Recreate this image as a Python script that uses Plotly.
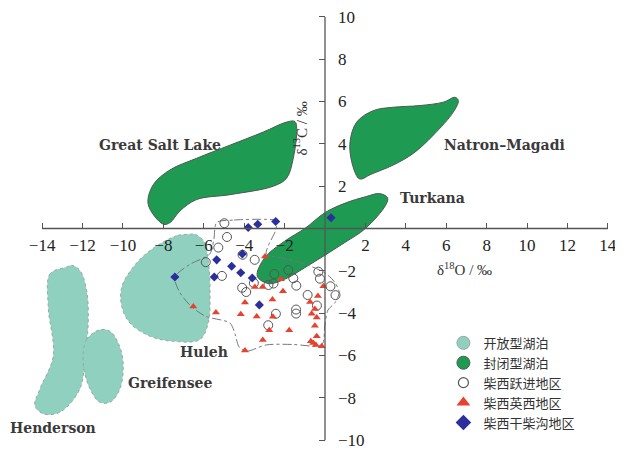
import plotly.graph_objects as go

# ---------------- data ----------------
# Lake regions (delta18O, delta13C outline vertices)
great_salt_x = [-8.0, -8.75, -8.5, -7.67, -6.35, -4.7, -3.05, -1.9, -1.49, -1.4, -1.57, -1.9, -2.56, -4.7, -6.35, -7.18, -7.67]
great_salt_y = [0.2, 1.14, 2.07, 2.77, 3.32, 3.94, 4.56, 5.03, 5.06, 4.72, 3.32, 2.38, 2.0, 1.6, 1.37, 0.83, 0.28]

natron_x = [1.65, 1.32, 1.24, 1.57, 2.39, 3.38, 4.7, 5.86, 6.44, 6.6, 6.35, 5.36, 4.37, 3.38, 2.23, 1.82]
natron_y = [2.38, 3.16, 4.1, 5.03, 5.57, 5.73, 5.81, 5.97, 6.2, 6.04, 5.5, 4.41, 3.55, 3.0, 2.54, 2.34]

turkana_x = [-3.35, -3.0, -2.0, -1.0, 0.0, 1.0, 2.0, 2.7, 3.1, 3.0, 2.0, 1.0, 0.0, -1.0, -2.0, -2.8]
turkana_y = [-2.25, -1.4, -0.6, 0.0, 0.75, 1.2, 1.5, 1.65, 1.45, 1.1, 0.0, -0.65, -1.26, -1.85, -2.4, -2.6]

huleh_x = [-6.68, -7.34, -8.66, -9.49, -10.06, -10.06, -9.65, -8.66, -7.51, -6.19, -5.78, -5.69, -5.78, -6.02, -6.44]
huleh_y = [-0.27, -0.34, -1.04, -1.82, -2.76, -3.69, -4.47, -5.09, -5.33, -5.25, -4.47, -3.07, -1.51, -0.57, -0.27]

henderson_x = [-12.79, -13.61, -13.7, -13.45, -14.11, -14.36, -13.95, -13.12, -12.13, -11.88, -11.72, -11.8, -12.13, -12.54]
henderson_y = [-1.82, -2.14, -3.69, -6.03, -7.58, -8.36, -8.75, -8.68, -7.58, -6.03, -4.47, -2.91, -1.98, -1.74]

greifensee_x = [-11.14, -11.8, -11.97, -11.63, -11.14, -10.64, -10.15, -9.99, -10.23, -10.64]
greifensee_y = [-4.78, -5.25, -6.34, -7.58, -8.21, -8.21, -7.58, -6.34, -5.41, -4.86]

# dashed boundary of the Chaixi samples
bound_x = [-5.36, -4.5, -2.9, -2.4, -2.45, -2.8, -2.9, -1.8, -0.8, 0.0, 0.45, 0.7, 0.5, 0.15, 0.0, -0.1, -0.3, -1.6, -2.9, -3.9, -4.25, -4.45, -4.7, -5.9, -6.6, -7.2, -7.43, -6.7, -5.7, -5.5, -5.36]
bound_y = [0.28, 0.4, 0.43, 0.36, -0.1, -0.8, -1.2, -1.45, -1.75, -2.1, -2.5, -3.0, -3.5, -3.85, -4.5, -5.4, -5.55, -5.48, -5.5, -5.8, -5.6, -5.0, -4.47, -4.15, -3.7, -3.0, -2.3, -1.7, -1.2, -0.5, 0.28]

# sample points
yuejin_x = [-4.98, -4.85, -5.28, -5.9, -5.1, -4.08, -3.48, -4.1, -3.9, -3.52, -2.8, -2.55, -2.51, -1.82, -1.57, -1.42, -0.86, -0.33, -0.25, -0.4, 0.27, 0.52, -1.43, -1.43, -2.43, -2.81]
yuejin_y = [0.25, -0.4, -0.9, -1.59, -2.24, -1.24, -1.48, -2.8, -3.0, -2.58, -2.67, -2.6, -2.15, -1.96, -2.35, -2.7, -3.14, -2.04, -2.37, -3.64, -2.73, -3.15, -3.83, -4.02, -4.03, -4.57]

yingxi_x = [-6.52, -5.4, -4.17, -3.96, -3.47, -3.09, -3.38, -3.96, -2.97, -2.18, -2.08, -0.08, -2.6, -0.35, -0.74, -2.58, -0.66, -0.5, -0.41, -0.5, -2.76, -1.77, -0.41, -3.08, -0.58, -0.7, -0.45, -0.16]
yingxi_y = [-3.69, -3.97, -4.05, -3.5, -2.76, -2.76, -4.16, -5.76, -1.32, -2.4, -2.96, -2.73, -3.36, -3.19, -3.47, -4.17, -4.03, -3.8, -4.21, -4.59, -4.81, -4.81, -5.09, -5.27, -5.41, -5.33, -5.5, -5.56]

ganchaigou_x = [-3.8, -3.33, -2.44, 0.3, -5.36, -4.62, -5.48, -4.17, -3.6, -4.09, -7.43, -3.25]
ganchaigou_y = [0.05, 0.2, 0.33, 0.51, -1.48, -1.78, -2.29, -2.09, -2.34, -1.2, -2.29, -3.61]

# axis ticks
x_tickvals = [-14, -12, -10, -8, -6, -4, -2, 2, 4, 6, 8, 10, 12, 14]
x_ticktext = ["−14", "−12", "−10", "−8", "−6", "−4", "−2", "2", "4", "6", "8", "10", "12", "14"]
y_tickvals = [-10, -8, -6, -4, -2, 2, 4, 6, 8, 10]
y_ticktext = ["−10", "−8", "−6", "−4", "−2", "2", "4", "6", "8", "10"]

# lake name labels
lake_names = ["Great Salt Lake", "Natron–Magadi", "Turkana", "Huleh", "Greifensee", "Henderson"]
lake_label_x = [-8.19, 8.86, 5.3, -5.99, -7.67, -13.47]
lake_label_y = [3.97, 3.97, 1.45, -5.84, -7.29, -9.44]

legend_names = ["开放型湖泊", "封闭型湖泊", "柴西跃进地区", "柴西英西地区", "柴西干柴沟地区"]

# ---------------- style ----------------
OPEN_FILL = "#8fd0bf"
CLOSED_FILL = "#1f9a52"
SERIF = "Liberation Serif, Times New Roman, serif"
LABEL_SERIF = "DejaVu Serif, serif"
CJK = "Noto Sans CJK SC, sans-serif"

# page body has an 8px margin: the figure spans page px 8..623 / 8..450
W, H = 615, 442
XR = [-15.69, 14.75]
YR = [-10.23, 10.42]

fig = go.Figure()

def closed(xs, ys):
    return list(xs) + [xs[0]], list(ys) + [ys[0]]

for xs, ys in [(henderson_x, henderson_y), (greifensee_x, greifensee_y), (huleh_x, huleh_y)]:
    cx, cy = closed(xs, ys)
    fig.add_trace(go.Scatter(x=cx, y=cy, mode="lines", fill="toself", fillcolor=OPEN_FILL,
                             line=dict(color="#9aa8a4", width=1, dash="dot", shape="spline", smoothing=1.0),
                             showlegend=False, hoverinfo="skip"))

for xs, ys in [(great_salt_x, great_salt_y), (natron_x, natron_y), (turkana_x, turkana_y)]:
    cx, cy = closed(xs, ys)
    fig.add_trace(go.Scatter(x=cx, y=cy, mode="lines", fill="toself", fillcolor=CLOSED_FILL,
                             line=dict(color="#4f5a52", width=1, shape="spline", smoothing=1.0),
                             showlegend=False, hoverinfo="skip"))

fig.add_trace(go.Scatter(x=bound_x, y=bound_y, mode="lines",
                         line=dict(color="#707880", width=1, dash="dashdot", shape="spline", smoothing=0.8),
                         showlegend=False, hoverinfo="skip"))

fig.add_trace(go.Scatter(x=yuejin_x, y=yuejin_y, mode="markers", showlegend=False,
                         marker=dict(symbol="circle-open", size=9, color="#555555",
                                     line=dict(color="#555555", width=1))))
fig.add_trace(go.Scatter(x=yingxi_x, y=yingxi_y, mode="markers", showlegend=False,
                         marker=dict(symbol="triangle-up", size=7, color="#e8412c", line=dict(width=0))))
fig.add_trace(go.Scatter(x=ganchaigou_x, y=ganchaigou_y, mode="markers", showlegend=False,
                         marker=dict(symbol="diamond", size=7, color="#2b2f9c", line=dict(width=0))))

# legend entries
legend_markers = [
    dict(symbol="circle", size=13, color=OPEN_FILL, line=dict(color="#9aa8a4", width=1)),
    dict(symbol="circle", size=13, color=CLOSED_FILL, line=dict(color="#4f5a52", width=1)),
    dict(symbol="circle-open", size=10, color="#555555", line=dict(color="#555555", width=1.2)),
    dict(symbol="triangle-up", size=12, color="#e8412c", line=dict(width=0)),
    dict(symbol="diamond", size=12, color="#2b2f9c", line=dict(width=0)),
]
for name, mk in zip(legend_names, legend_markers):
    fig.add_trace(go.Scatter(x=[None], y=[None], mode="markers", name=name, marker=mk))

annotations = []
for name, lx, ly in zip(lake_names, lake_label_x, lake_label_y):
    annotations.append(dict(x=lx, y=ly, text="<b>%s</b>" % name, showarrow=False,
                            font=dict(family=LABEL_SERIF, size=14, color="#3a3a3a")))
annotations.append(dict(x=6.9, y=-1.92, text="δ<sup>18</sup>O / ‰", showarrow=False,
                        font=dict(family=SERIF, size=15, color="#333")))
annotations.append(dict(x=-1.24, y=4.72, text="δ<sup>13</sup>C / ‰", showarrow=False, textangle=-90,
                        font=dict(family=SERIF, size=15, color="#333")))

shapes = [
    dict(type="line", x0=-14, x1=14, y0=0, y1=0, line=dict(color="#555", width=1.3), layer="above"),
    dict(type="line", x0=0, x1=0, y0=-10, y1=10, line=dict(color="#555", width=1.3), layer="above"),
]

fig.update_layout(
    width=W, height=H,
    margin=dict(l=0, r=0, t=0, b=0),
    paper_bgcolor="white", plot_bgcolor="white",
    xaxis=dict(range=XR, showgrid=False, zeroline=False, showline=False,
               anchor="free", position=(0 - YR[0]) / (YR[1] - YR[0]),
               tickmode="array", tickvals=x_tickvals, ticktext=x_ticktext,
               ticks="inside", ticklen=6, tickcolor="#555", tickwidth=1.2,
               tickfont=dict(family=SERIF, size=17, color="#222"), ticklabelstandoff=4,
               ticklabeloverflow="allow"),
    yaxis=dict(range=YR, showgrid=False, zeroline=False, showline=False,
               anchor="free", position=(0 - XR[0]) / (XR[1] - XR[0]), side="right",
               tickmode="array", tickvals=y_tickvals, ticktext=y_ticktext,
               ticks="inside", ticklen=6, tickcolor="#555", tickwidth=1.2,
               tickfont=dict(family=SERIF, size=17, color="#222"), ticklabelstandoff=12,
               ticklabeloverflow="allow"),
    legend=dict(x=0.708, y=0.268, xanchor="left", yanchor="top", bgcolor="rgba(0,0,0,0)",
                font=dict(family=CJK, size=13, color="#333"), tracegroupgap=0),
    annotations=annotations,
    shapes=shapes,
    showlegend=True,
)

fig.write_html("out.html")
